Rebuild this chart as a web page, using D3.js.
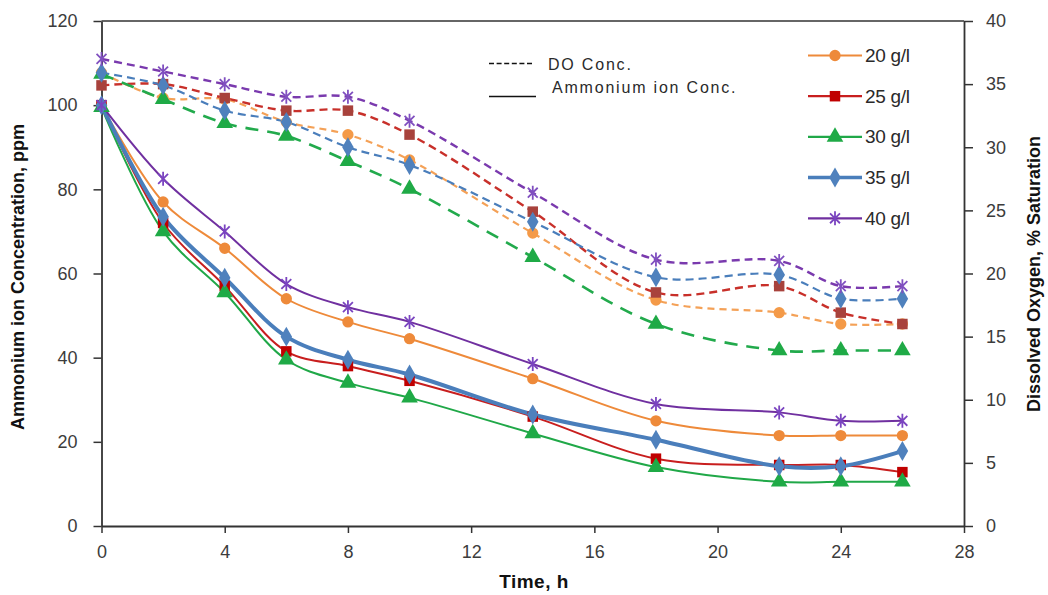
<!DOCTYPE html>
<html>
<head>
<meta charset="utf-8">
<script src="https://cdn.jsdelivr.net/npm/d3@7"></script>
<style>
  html, body { margin: 0; padding: 0; background: #fff; }
  svg { display: block; }
  .tick text { font-family: Arial, "Liberation Sans", sans-serif; font-size: 18px; fill: #3c3c3c; }
  .title { font-family: Arial, "Liberation Sans", sans-serif; font-weight: bold; font-size: 18px; fill: #111; }
  .legtext { font-family: Arial, "Liberation Sans", sans-serif; font-size: 19px; fill: #2a2a2a; letter-spacing: -0.3px; }
  .legtext2 { font-family: Arial, "Liberation Sans", sans-serif; font-size: 16px; fill: #2a2a2a; letter-spacing: 1.8px; }
</style>
</head>
<body>
<svg id="chart" width="1048" height="595"></svg>
<script>
// ---------- data ----------
const time = [0, 2, 4, 6, 8, 10, 14, 18, 22, 24, 26];
const seriesNames = ["20 g/l", "25 g/l", "30 g/l", "35 g/l", "40 g/l"];

// Ammonium ion concentration, ppm (left axis, solid lines)
const nh4_20 = [100, 77, 66, 54, 48.5, 44.5, 35, 25, 21.5, 21.5, 21.5];
const nh4_25 = [100, 72, 57, 41.5, 38, 34.5, 26, 16, 14.5, 14.5, 12.8];
const nh4_30 = [99.5, 70, 55.5, 39.5, 34, 30.5, 22, 14, 10.5, 10.5, 10.5];
const nh4_35 = [100, 73.5, 59, 45, 39.5, 36, 26.5, 20.5, 14.2, 14.2, 17.8];
const nh4_40 = [100, 82.5, 70, 57.5, 52, 48.5, 38.5, 29, 27, 25, 25];

// Dissolved oxygen, % saturation (right axis, dashed lines)
const do_20 = [35.9, 33.9, 33.8, 32, 31, 29, 23.2, 17.9, 16.9, 16, 16];
const do_25 = [34.9, 35, 33.9, 32.9, 32.9, 31, 24.9, 18.5, 19, 16.9, 16];
const do_30 = [35.8, 33.8, 31.9, 30.9, 28.9, 26.7, 21.3, 16, 13.9, 13.9, 13.9];
const do_35 = [35.9, 34.9, 32.9, 32, 30, 28.6, 24.1, 19.7, 19.9, 18, 18];
const do_40 = [37, 36, 35, 34, 34, 32.1, 26.4, 21.1, 21, 19, 19];

const xTicks = [0, 4, 8, 12, 16, 20, 24, 28];
const yLeftTicks = [0, 20, 40, 60, 80, 100, 120];
const yRightTicks = [0, 5, 10, 15, 20, 25, 30, 35, 40];

// ---------- styles ----------
const styles = [
  { line: "#EE8A3A", dline: "#F4A157", marker: "#EE8A3A", dmarker: "#F49A48", shape: "circle", w: 2, dw: 2.2, dash: "7,5" },
  { line: "#C81E1E", dline: "#C8302A", marker: "#C00000", dmarker: "#A8423C", shape: "square", w: 2, dw: 2.4, dash: "8,5" },
  { line: "#20A848", dline: "#22AA4C", marker: "#1FAA46", dmarker: "#1FAA46", shape: "triangle", w: 2, dw: 2.6, dash: "13,9" },
  { line: "#4A7EBB", dline: "#4A7EBB", marker: "#4F81BD", dmarker: "#4F81BD", shape: "diamond", w: 4, dw: 2.2, dash: "8,5" },
  { line: "#7030A0", dline: "#7A3AAE", marker: "#7A44C0", dmarker: "#8050C0", shape: "star", w: 2, dw: 2.4, dash: "8,5" }
];
const nh4 = [nh4_20, nh4_25, nh4_30, nh4_35, nh4_40];
const dox = [do_20, do_25, do_30, do_35, do_40];

// ---------- layout ----------
const W = 1048, H = 595;
const m = { left: 101.5, right: 84, top: 21, bottom: 69 };
const svg = d3.select("#chart");

const x = d3.scaleLinear().domain([0, 28]).range([m.left, W - m.right]);
const yL = d3.scaleLinear().domain([0, 120]).range([H - m.bottom, m.top]);
const yR = d3.scaleLinear().domain([0, 40]).range([H - m.bottom, m.top]);

// frame top line
svg.append("line")
  .attr("x1", x(0)).attr("x2", x(28)).attr("y1", yL(120)).attr("y2", yL(120))
  .attr("stroke", "#333").attr("stroke-width", 1.5);

// axes
function styleAxis(g) {
  g.select(".domain").attr("stroke", "#333").attr("stroke-width", 1.8);
  g.selectAll(".tick line").attr("stroke", "#333").attr("stroke-width", 1.5);
}
svg.append("g").attr("transform", `translate(0,${H - m.bottom})`)
  .call(d3.axisBottom(x).tickValues(xTicks).tickSize(7).tickSizeOuter(0).tickPadding(12))
  .call(styleAxis);
svg.append("g").attr("transform", `translate(${m.left},0)`)
  .call(d3.axisLeft(yL).tickValues(yLeftTicks).tickSize(8).tickSizeOuter(0).tickPadding(16))
  .call(styleAxis);
svg.append("g").attr("transform", `translate(${W - m.right},0)`)
  .call(d3.axisRight(yR).tickValues(yRightTicks).tickSize(9).tickSizeOuter(0).tickPadding(13))
  .call(styleAxis);

// axis titles
svg.append("text").attr("class", "title")
  .attr("transform", `translate(23.5,277) rotate(-90)`)
  .attr("text-anchor", "middle").text("Ammonium ion Concentration, ppm");
svg.append("text").attr("class", "title")
  .attr("transform", `translate(1040,274) rotate(-90)`)
  .attr("text-anchor", "middle").text("Dissolved Oxygen, % Saturation");
svg.append("text").attr("class", "title")
  .attr("x", 534).attr("y", 588).attr("text-anchor", "middle")
  .style("font-size", "19px").style("letter-spacing", "0.5px").text("Time, h");

// marker generator
function markerPath(shape) {
  if (shape === "circle") return d3.symbol(d3.symbolCircle, 100)();
  if (shape === "square") return d3.symbol(d3.symbolSquare, 110)();
  if (shape === "triangle") return d3.symbol(d3.symbolTriangle, 120)();
  if (shape === "diamond") return d3.symbol(d3.symbolDiamond, 115)();
  const r = 7;
  const d = r * Math.SQRT1_2;
  return `M0,${-r}L0,${r}M${-d},${-d}L${d},${d}M${-d},${d}L${d},${-d}`;
}
function drawMarker(g, shape, color, px, py) {
  const p = g.append("path").attr("d", markerPath(shape)).attr("transform", `translate(${px},${py})`);
  if (shape === "star") p.attr("fill", "none").attr("stroke", color).attr("stroke-width", 1.8);
  else p.attr("fill", color).attr("stroke", "none");
}

const curve = d3.curveCatmullRom.alpha(0.5);

// DO dashed lines (draw first)
dox.forEach((vals, i) => {
  const s = styles[i];
  const line = d3.line().x((d, k) => x(time[k])).y(d => yR(d)).curve(curve);
  svg.append("path").datum(vals).attr("d", line)
    .attr("fill", "none").attr("stroke", s.dline).attr("stroke-width", s.dw)
    .attr("stroke-dasharray", s.dash);
});
dox.forEach((vals, i) => {
  const s = styles[i];
  const g = svg.append("g");
  vals.forEach((v, k) => drawMarker(g, s.shape, s.dmarker, x(time[k]), yR(v)));
});

// Ammonium solid lines
nh4.forEach((vals, i) => {
  const s = styles[i];
  const line = d3.line().x((d, k) => x(time[k])).y(d => yL(d)).curve(curve);
  svg.append("path").datum(vals).attr("d", line)
    .attr("fill", "none").attr("stroke", s.line).attr("stroke-width", s.w);
});
nh4.forEach((vals, i) => {
  const s = styles[i];
  const g = svg.append("g");
  vals.forEach((v, k) => drawMarker(g, s.shape, s.marker, x(time[k]), yL(v)));
});

// legend: line types
const lg = svg.append("g");
lg.append("line").attr("x1", 489).attr("x2", 534).attr("y1", 63.5).attr("y2", 63.5)
  .attr("stroke", "#111").attr("stroke-width", 1.4).attr("stroke-dasharray", "5,2.6");
lg.append("text").attr("class", "legtext2").attr("x", 548).attr("y", 69.5).text("DO Conc.");
lg.append("line").attr("x1", 489).attr("x2", 536).attr("y1", 96.5).attr("y2", 96.5)
  .attr("stroke", "#111").attr("stroke-width", 1.5);
lg.append("text").attr("class", "legtext2").attr("x", 552).attr("y", 93).text("Ammonium ion Conc.");

// legend: series
seriesNames.forEach((name, i) => {
  const s = styles[i];
  const yy = 55.5 + i * 40.7;
  const g = svg.append("g");
  g.append("line").attr("x1", 808).attr("x2", 862).attr("y1", yy).attr("y2", yy)
    .attr("stroke", s.line).attr("stroke-width", s.w === 4 ? 3.5 : 2.2);
  drawMarker(g, s.shape, s.marker, 835, yy);
  g.append("text").attr("class", "legtext").attr("x", 865).attr("y", yy + 6.5).text(name);
});
</script>
</body>
</html>
